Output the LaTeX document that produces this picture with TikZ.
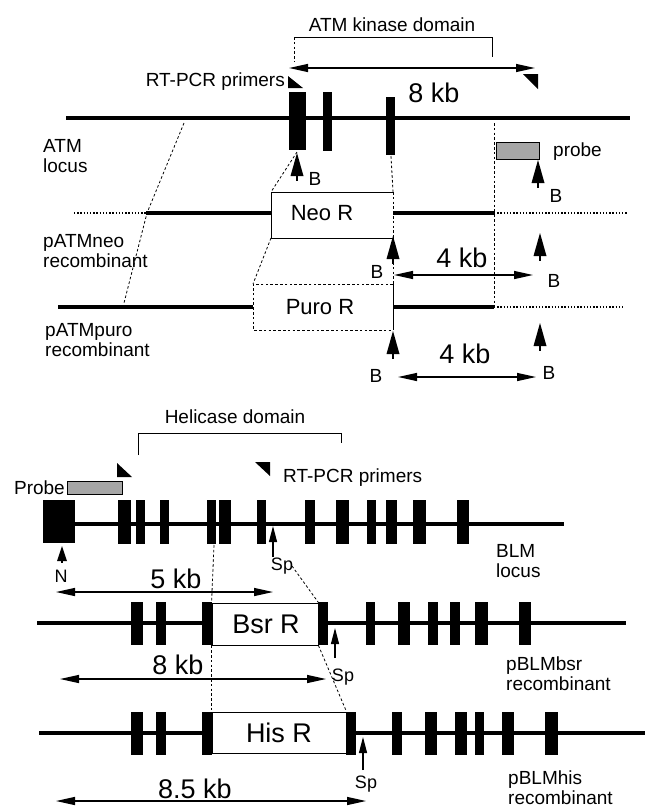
\documentclass[tikz,border=0pt]{standalone}
\usepackage{fontspec}
\setmainfont{Liberation Sans}
\usetikzlibrary{arrows.meta}
\tikzset{
  locus/.style={line width=3.6pt},
  dotline/.style={line width=2.4pt, dash pattern=on 1.4pt off 1.8pt},
  thindash/.style={line width=0.8pt, dash pattern=on 2.6pt off 2.2pt},
  thinline/.style={line width=0.9pt},
  exon/.style={fill=black},
  lbl/.style={font=\fontsize{19}{20}\selectfont, inner sep=0pt},
  kb/.style={font=\fontsize{27}{28}\selectfont, inner sep=0pt},
  boxlbl/.style={font=\fontsize{22}{24}\selectfont, inner sep=0pt},
  boxlblb/.style={font=\fontsize{27}{28}\selectfont, inner sep=0pt},
  splbl/.style={font=\fontsize{18}{19}\selectfont, inner sep=0pt},
  thinarrow/.style={line width=1.1pt, -{Triangle[length=16pt,width=8pt]}},
  dbl/.style={line width=1.3pt, {Triangle[length=19pt,width=8pt]}-{Triangle[length=19pt,width=8pt]}},
  probefill/.style={fill=gray!70, draw=black, line width=0.7pt},
  rbox/.style={draw=black, line width=0.9pt, fill=white},
  bsite/.pic={\fill (-6.5,23) -- (0,0) -- (6.5,23) -- cycle;
              \draw[line width=2.6pt] (0,18) -- (0,28);},
  nsite/.pic={\fill (-5,15) -- (0,0) -- (5,15) -- cycle;
              \draw[line width=1.8pt] (0,12) -- (0,17);}
}
\begin{document}
\begin{tikzpicture}[x=1pt,y=-1pt]
\useasboundingbox (0,0) rectangle (645,812);

% ================= TOP: ATM =================
\node[lbl] (atmk) at (392,25) {ATM kinase domain};
\coordinate (bkLb) at (294,62); \coordinate (bkL) at (294,37);
\coordinate (bkR) at (492,37); \coordinate (bkRb) at (492,57);
\draw[thinline] (bkL) -- (bkR) -- (bkRb);
\draw[thindash] (bkL) -- (bkLb);
\coordinate (a8L) at (289,68); \coordinate (a8R) at (535,68);
\draw[dbl] (a8L) -- (a8R);
\fill (288,76) -- (288,88) -- (303,88) -- cycle;
\fill (523,74) -- (538,74) -- (538,89) -- cycle;
\node[lbl, anchor=east] (rtpcr1) at (285,82) {RT-PCR primers};
\node[kb] (kb8top) at (434,93) {8 kb};

% ATM locus
\coordinate (atmL) at (66,118); \coordinate (atmR) at (630,118);
\draw[locus] (atmL) -- (atmR);
\fill[exon] (289,92) rectangle (306,150);
\fill[exon] (323,92) rectangle (332,151);
\fill[exon] (386,97) rectangle (395,155);
\node[lbl, anchor=west, align=left] (atmlab) at (43,156) {ATM\\locus};
\node[probefill, minimum width=43pt, minimum height=17pt, inner sep=0pt] (probe1) at (517.5,150.5) {};
\node[lbl, anchor=west] (probelab) at (553,152) {probe};

% neo recombinant
\coordinate (ne1) at (271,192); \coordinate (ne2) at (393,192);
\coordinate (ne3) at (393,238); \coordinate (ne4) at (271,238);
\fill[white] (ne1) rectangle (ne3);
\draw[thinline] (ne2) -- (ne1) -- (ne4) -- (ne3);
\draw[thindash] (ne2) -- (ne3);
\node[boxlbl] (neolab) at (322,213) {Neo R};
\coordinate (n1) at (74,213); \coordinate (n2) at (146,213);
\coordinate (n3) at (494,213); \coordinate (n4) at (628,213);
\draw[dotline] (n1) -- (n2);
\draw[locus] (n2) -- (ne1 |- n2);
\draw[locus] (ne2 |- n2) -- (n3);
\draw[dotline] (n3) -- (n4);
\node[lbl, anchor=west, align=left] (neoname) at (43,251) {pATMneo\\recombinant};

% puro recombinant
\coordinate (pu1) at (253,284); \coordinate (pu2) at (393,284);
\coordinate (pu3) at (393,330); \coordinate (pu4) at (253,330);
\fill[white] (pu1) rectangle (pu3);
\draw[thindash] (pu2) -- (pu1) -- (pu4) -- (pu3);
\draw[thinline] (pu2) -- (pu3);
\node[boxlbl] (purolab) at (320,307) {Puro R};
\coordinate (p1) at (58,307); \coordinate (p2) at (253,307);
\coordinate (p3) at (393,307); \coordinate (p4) at (494,307); \coordinate (p5) at (625,307);
\draw[locus] (p1) -- (p2);
\draw[locus] (p3) -- (p4);
\draw[dotline] (p4) -- (p5);
\node[lbl, anchor=west, align=left] (puroname) at (45,340) {pATMpuro\\recombinant};

% dashed alignment lines (top)
\coordinate (d1) at (184,123); \coordinate (d2) at (147,213); \coordinate (d3) at (124,303);
\draw[thindash] (d1) -- (d2) -- (d3);
\coordinate (exA) at (297,152); \coordinate (exC) at (391,156);
\draw[thindash] (exA) -- (ne1);
\draw[thindash] (ne4) -- (pu1);
\draw[thindash] (exC) -- (ne2);
\draw[thindash] (ne3) -- (pu2);
\coordinate (v1) at (494,123);
\draw[thindash] (v1) -- (p4);

% B sites top
\pic at (297,153) {bsite};
\node[lbl] (b1) at (315,179) {B};
\pic at (538,160) {bsite};
\node[lbl] (b2) at (556,196) {B};
\pic at (393,236) {bsite};
\node[lbl] (b3) at (377,272) {B};
\pic at (540,233) {bsite};
\node[lbl] (b4) at (554,281) {B};
\pic at (393,331) {bsite};
\node[lbl] (b5) at (376,376) {B};
\pic at (540,323) {bsite};
\node[lbl] (b6) at (549,373) {B};

\coordinate (k4aL) at (394,275); \coordinate (k4aR) at (533,275);
\draw[dbl] (k4aL) -- (k4aR);
\node[kb] (kb4a) at (462,258) {4 kb};
\coordinate (k4bL) at (398,377); \coordinate (k4bR) at (536,377);
\draw[dbl] (k4bL) -- (k4bR);
\node[kb] (kb4b) at (465,354) {4 kb};

% ================= BOTTOM: BLM =================
\node[lbl] (heli) at (235,417) {Helicase domain};
\coordinate (hbL) at (138,433); \coordinate (hbR) at (341,433);
\draw[thinline] (138,455) -- (hbL) -- (hbR) -- (341,443);
\fill (117,463) -- (117,477) -- (132,477) -- cycle;
\fill (255,462) -- (270,462) -- (270,476) -- cycle;
\node[lbl, anchor=west] (rtpcr2) at (283,478) {RT-PCR primers};
\node[lbl, anchor=east] (probelab2) at (65,488) {Probe};
\node[probefill, minimum width=55pt, minimum height=13pt, inner sep=0pt] (probe2) at (94.5,487.5) {};

% BLM locus
\coordinate (blmL) at (74,524); \coordinate (blmR) at (564,524);
\draw[locus] (blmL) -- (blmR);
\fill[exon] (43,500) rectangle (75,543);
\foreach \a/\b in {118/131,136/145,160/169,207/216,219/231,257/266,305/315,336/349,367/376,386/397,413/426,457/469}
  \fill[exon] (\a,500) rectangle (\b,544);
\pic at (62,546) {nsite};
\node[splbl] (nlab) at (61,576) {N};
\draw[thinarrow] (273,557) -- (273,526);
\node[splbl] (sp1) at (282,566) {Sp};
\node[lbl, anchor=west, align=left] (blmname) at (496,561) {BLM\\locus};
\coordinate (k5L) at (56,592); \coordinate (k5R) at (273,592);
\draw[dbl] (k5L) -- (k5R);
\node[kb] (kb5) at (176,579) {5 kb};

% Bsr recombinant
\coordinate (bsL) at (37,623); \coordinate (bsR) at (626,623);
\draw[locus] (bsL) -- (bsR);
\foreach \a/\b in {131/143,156/166,202/212,318/328,366/375,398/410,428/438,450/460,475/488,519/531}
  \fill[exon] (\a,602) rectangle (\b,645);
\node[rbox, minimum width=106pt, minimum height=42pt, inner sep=0pt] (bsr) at (265,624) {};
\node[boxlblb] (bsrlab) at (266,624) {Bsr R};
\draw[thinarrow] (335,658) -- (335,628);
\node[splbl] (sp2) at (343,677) {Sp};
\coordinate (k8L) at (60,679); \coordinate (k8R) at (326,679);
\draw[dbl] (k8L) -- (k8R);
\node[kb] (kb8b) at (178,665) {8 kb};
\node[lbl, anchor=west, align=left] (bsrname) at (506,674) {pBLMbsr\\recombinant};

% His recombinant
\coordinate (hsL) at (39,733); \coordinate (hsR) at (645,733);
\draw[locus] (hsL) -- (hsR);
\foreach \a/\b in {131/143,156/166,202/212,346/356,392/402,425/437,455/467,475/484,502/514,545/558}
  \fill[exon] (\a,712) rectangle (\b,755);
\node[rbox, minimum width=134pt, minimum height=41pt, inner sep=0pt] (his) at (279,732.5) {};
\node[boxlblb] (hislab) at (279,733) {His R};
\draw[thinarrow] (363,770) -- (363,737);
\node[splbl] (sp3) at (366,784) {Sp};
\coordinate (k85L) at (56,801); \coordinate (k85R) at (366,801);
\draw[dbl] (k85L) -- (k85R);
\node[kb] (kb85) at (195,789) {8.5 kb};
\node[lbl, anchor=west, align=left] (hisname) at (508,788) {pBLMhis\\recombinant};

% dashed alignment lines (bottom)
\coordinate (bx1) at (214,545); \coordinate (bx2) at (292,566);
\draw[thindash] (bx1) -- (bsr.north west);
\draw[thindash] (bx2) -- (bsr.north east);
\draw[thindash] (bsr.south west) -- (his.north west);
\draw[thindash] (bsr.south east) -- (his.north east);
\end{tikzpicture}
\end{document}
